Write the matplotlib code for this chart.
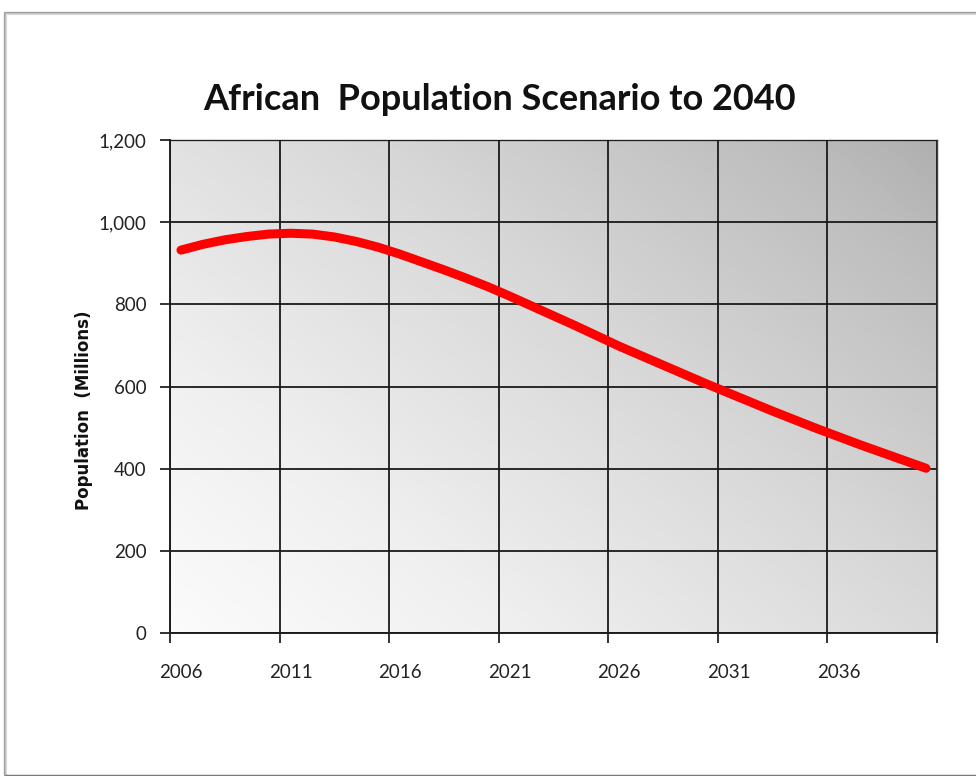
import numpy as np
import matplotlib
matplotlib.use("Agg")
import matplotlib.pyplot as plt
from matplotlib.patches import Rectangle

# Annual population scenario, millions
years = list(range(2006, 2041))
population = [932, 946, 957, 965, 971, 973, 971, 964, 953, 939,
              922, 903, 884, 864, 843, 820, 796, 772, 748, 723,
              698, 675, 652, 629, 606, 584, 562, 540, 519, 498,
              478, 458, 439, 420, 401]
label_years = [2006, 2011, 2016, 2021, 2026, 2031, 2036]
y_ticks = [0, 200, 400, 600, 800, 1000, 1200]

TITLE = "African  Population Scenario to 2040"
YLABEL = "Population  (Millions)"

plt.rcParams["font.family"] = ["Lato", "DejaVu Sans"]

fig = plt.figure(figsize=(9.76, 7.76), dpi=100)
fig.patch.set_facecolor("white")

# chart-area frame with a soft shadow (runs off the right edge)
for i, a in enumerate([0.10, 0.18, 0.35]):
    fig.patches.append(Rectangle((6 / 976 - i * 0.001, 1 - 775 / 776),
                                 1.2, (775 - 14) / 776 + i * 0.001,
                                 transform=fig.transFigure, fill=False,
                                 edgecolor="black", alpha=a, lw=1.0))

ax = fig.add_axes([170 / 976, 1 - 633 / 776, (937 - 170) / 976, (633 - 140) / 776])

# diagonal grey gradient behind the plot
gx, gy = np.meshgrid(np.linspace(0, 1, 300), np.linspace(0, 1, 300))
shade = 0.55 * gx + 0.45 * gy
ax.imshow(shade, extent=(0, 1, 0, 1), origin="lower", transform=ax.transAxes,
          cmap="Greys", vmin=-0.08, vmax=2.5, aspect="auto", zorder=0,
          interpolation="bilinear")

ax.plot(years, population, color="#ff0000", lw=6.5, solid_capstyle="round",
        solid_joinstyle="round", zorder=3)

ax.set_xlim(years[0] - 0.5, years[-1] + 0.5)
ax.set_ylim(0, 1200)

# category boundaries every five years carry ticks and gridlines
bounds = [y - 0.5 for y in label_years] + [years[-1] + 0.5]
ax.set_xticks(bounds)
ax.set_xticklabels([])
ax.set_xticks(label_years, minor=True)
ax.set_xticklabels([str(y) for y in label_years], minor=True, fontsize=13.5,
                   color="#222222")
ax.tick_params(axis="x", which="minor", length=0, pad=22)
ax.tick_params(axis="x", which="major", length=7, width=1.3, color="#222222")

ax.set_yticks(y_ticks)
ax.set_yticklabels([f"{v:,}" for v in y_ticks], fontsize=13.5, color="#222222")
ax.tick_params(axis="y", length=7, width=1.3, color="#222222", pad=10)

ax.grid(True, which="major", color="#1a1a1a", lw=1.3, zorder=1)
ax.set_axisbelow(False)
for side in ["left", "bottom"]:
    ax.spines[side].set_color("#222222")
    ax.spines[side].set_linewidth(1.4)
for side in ["top", "right"]:
    ax.spines[side].set_color("#444444")
    ax.spines[side].set_linewidth(1.0)

fig.text(84 / 976, 1 - 410 / 776, YLABEL, rotation=90, ha="center", va="center",
         fontsize=12, fontweight="bold", family="DejaVu Sans", color="#111111")
fig.text(500 / 976, 1 - 100 / 776, TITLE, ha="center", va="center",
         fontsize=26, fontweight="bold", color="#111111")

fig.savefig("out.png", dpi=100)
